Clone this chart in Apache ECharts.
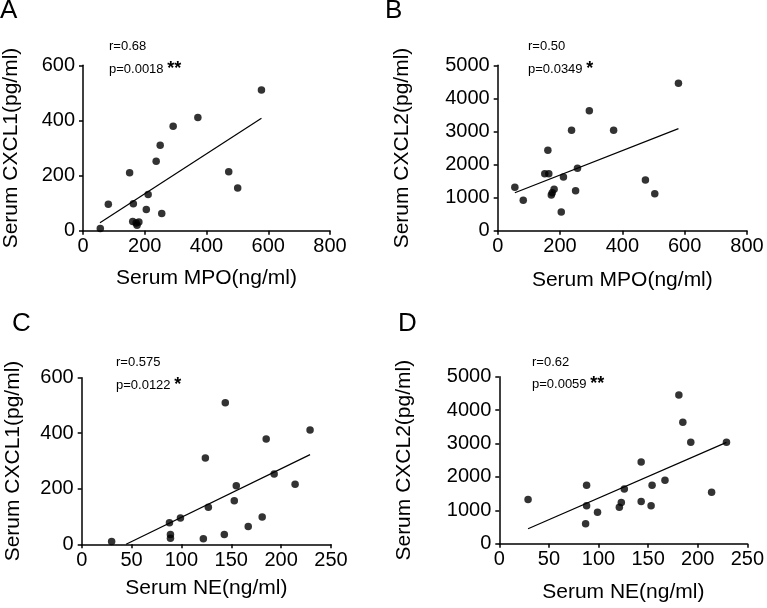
<!DOCTYPE html>
<html>
<head>
<meta charset="utf-8">
<script src="https://cdn.jsdelivr.net/npm/echarts@6/dist/echarts.min.js"></script>
<style>
  html, body { margin: 0; padding: 0; background: #fff; }
  #chart { width: 767px; height: 608px; }
</style>
</head>
<body>
<div id="chart"></div>
<script>
// MPO vs chemokines (panels A, B)
var mpo = [578, 372, 292, 250, 237, 151, 472, 501, 211, 82, 163, 205, 255, 56, 161, 181, 175, 172];
var cxcl1ByMpo = [510, 411, 379, 310, 252, 210, 214, 155, 131, 96, 98, 77, 62, 8, 33, 32, 20, 28];
var mpoB = [580, 294, 237, 372, 161, 151, 164, 256, 211, 55, 82, 181, 175, 172, 250, 474, 504, 204];
var cxcl2ByMpo = [4456, 3629, 3034, 3034, 2429, 1724, 1724, 1885, 1623, 1310, 917, 1250, 1150, 1080, 1210, 1532, 1119, 565];

// NE vs chemokines (panels C, D)
var ne = [30, 88, 89, 89, 99, 124, 122, 127, 144, 143, 153, 155, 167, 181, 185, 193, 214, 229];
var cxcl1ByNe = [10, 78, 35, 22, 95, 311, 20, 133, 510, 35, 157, 211, 64, 98, 379, 253, 216, 412];
var neD = [29, 88, 88, 87, 99, 121, 123, 126, 143, 143, 153, 154, 167, 181, 185, 193, 214, 229];
var cxcl2ByNe = [1327, 1747, 1138, 599, 938, 1088, 1237, 1637, 2445, 1267, 1138, 1747, 1896, 4454, 3636, 3034, 1540, 3034];

// regression line end points
var fitA = [[55, 29], [578, 408]];
var fitB = [[55, 1149], [580, 3085]];
var fitC = [[44.5, 0], [229, 323]];
var fitD = [[29, 449], [229, 3034]];

var panelLetters = ['A', 'B', 'C', 'D'];
var rText = ['r=0.68', 'r=0.50', 'r=0.575', 'r=0.62'];
var pText = ['p=0.0018', 'p=0.0349', 'p=0.0122', 'p=0.0059'];
var stars = ['**', '*', '*', '**'];

var FONT = 'Liberation Sans, Arial, sans-serif';

function zip(xs, ys) {
	var out = [];
	for (var i = 0; i < xs.length; i++) out.push([xs[i], ys[i]]);
	return out;
}

var grids = [
	{ left: 81, top: 65.3, width: 249, height: 165.4 },
	{ left: 497.7, top: 65.3, width: 249.3, height: 165.4 },
	{ left: 81.7, top: 377.7, width: 249.3, height: 166.6 },
	{ left: 499.3, top: 376.7, width: 250.4, height: 167 }
];

function axisFor(idx, max, interval, name, gap, labelMargin) {
	return {
		gridIndex: idx, type: 'value', min: 0, max: max, interval: interval,
		name: name, nameLocation: 'middle', nameGap: gap,
		nameTextStyle: { color: '#000', fontSize: 21, fontFamily: FONT },
		axisLine: { show: true, onZero: false, lineStyle: { color: '#000', width: 1.5 } },
		axisTick: { show: true, inside: false, length: 4, lineStyle: { color: '#000', width: 1.5 } },
		axisLabel: {
			color: '#000', fontSize: 20, fontFamily: FONT, margin: labelMargin,
			formatter: function (v) { return String(v); }
		},
		splitLine: { show: false }
	};
}

function scatter(idx, data) {
	return {
		type: 'scatter', xAxisIndex: idx, yAxisIndex: idx, data: data,
		symbolSize: 7.5, itemStyle: { color: '#000' }, silent: true
	};
}

function fitLine(idx, data) {
	return {
		type: 'line', xAxisIndex: idx, yAxisIndex: idx, data: data,
		symbol: 'none', lineStyle: { color: '#000', width: 1.2 }, silent: true
	};
}

// letters and r / p labels
var letterPos = [[0, 11], [385, 11], [12, 324], [398, 324]];
var rPos = [[109, 46], [528, 46], [116, 362], [532, 362]];
var pPos = [[109, 69], [528, 69], [116, 385], [532, 384]];
var graphics = [];
for (var i = 0; i < 4; i++) {
	graphics.push({
		type: 'text', left: letterPos[i][0], top: letterPos[i][1] - 13,
		style: { text: panelLetters[i], fontSize: 26, fontFamily: FONT, fill: '#000' }
	});
	graphics.push({
		type: 'text', x: rPos[i][0], y: rPos[i][1],
		style: { text: rText[i], fontSize: 13, fontFamily: FONT, fill: '#000', verticalAlign: 'middle' }
	});
	graphics.push({
		type: 'text', x: pPos[i][0], y: pPos[i][1],
		style: {
			text: pText[i] + ' {s|' + stars[i] + '}', fontSize: 13, fontFamily: FONT, fill: '#000',
			verticalAlign: 'middle',
			rich: { s: { fontSize: 18, fontWeight: 'bold', fontFamily: FONT, fill: '#000', verticalAlign: 'middle' } }
		}
	});
}

var option = {
	backgroundColor: '#fff',
	animation: false,
	grid: grids,
	xAxis: [
		axisFor(0, 800, 200, 'Serum MPO(ng/ml)', 37, 6),
		axisFor(1, 800, 200, 'Serum MPO(ng/ml)', 39, 6),
		axisFor(2, 250, 50, 'Serum NE(ng/ml)', 33, 6),
		axisFor(3, 250, 50, 'Serum NE(ng/ml)', 38, 6)
	],
	yAxis: [
		axisFor(0, 600, 200, 'Serum CXCL1(pg/ml)', 61, 8),
		axisFor(1, 5000, 1000, 'Serum CXCL2(pg/ml)', 85, 8),
		axisFor(2, 600, 200, 'Serum CXCL1(pg/ml)', 58, 8),
		axisFor(3, 5000, 1000, 'Serum CXCL2(pg/ml)', 85, 8)
	],
	series: [
		scatter(0, zip(mpo, cxcl1ByMpo)),
		fitLine(0, fitA),
		scatter(1, zip(mpoB, cxcl2ByMpo)),
		fitLine(1, fitB),
		scatter(2, zip(ne, cxcl1ByNe)),
		fitLine(2, fitC),
		scatter(3, zip(neD, cxcl2ByNe)),
		fitLine(3, fitD)
	],
	graphic: graphics
};

var chart = echarts.init(document.getElementById('chart'));
chart.setOption(option);
</script>
</body>
</html>
